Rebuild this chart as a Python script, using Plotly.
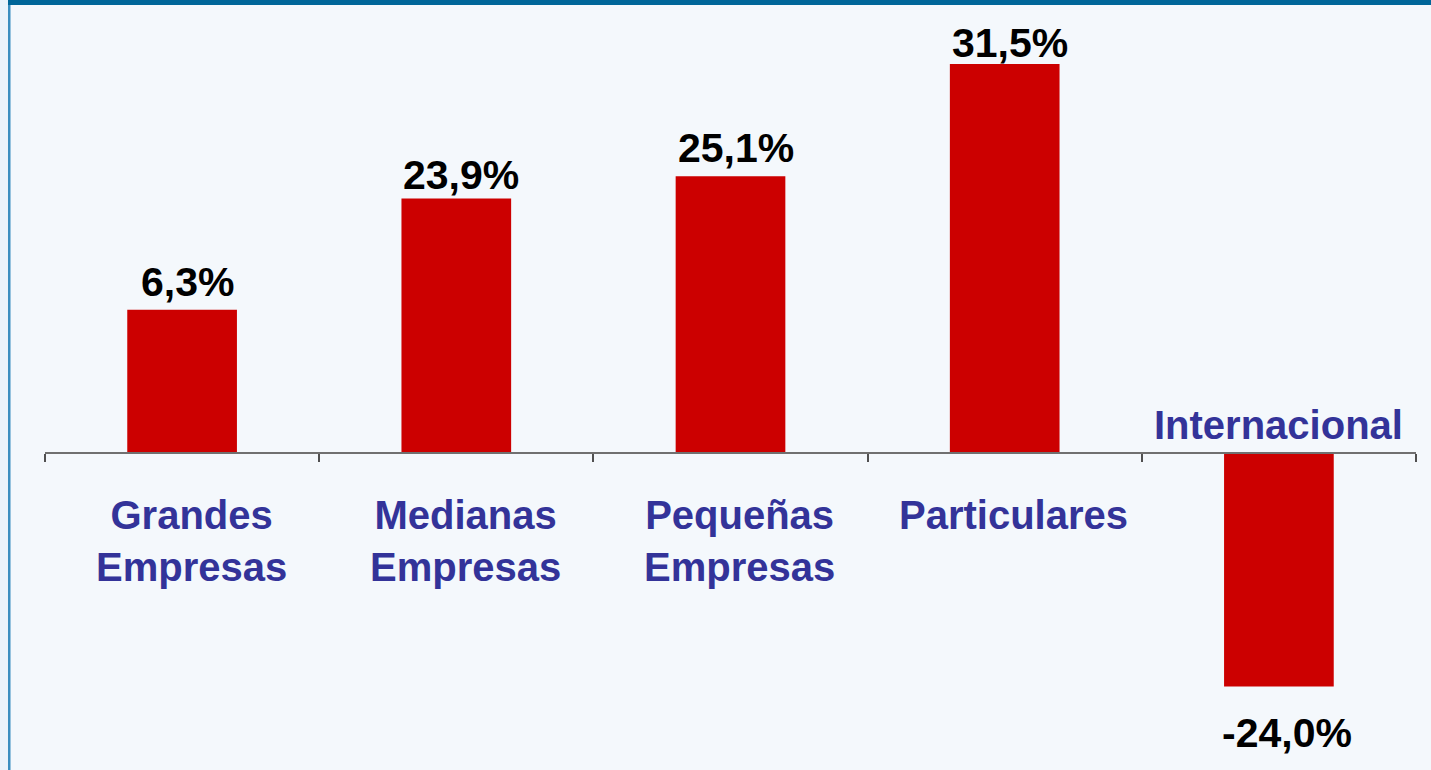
import plotly.graph_objects as go

# categories and values
categories = ["Grandes Empresas", "Medianas Empresas", "Pequeñas Empresas",
              "Particulares", "Internacional"]
category_labels = ["Grandes<br>Empresas", "Medianas<br>Empresas", "Pequeñas<br>Empresas",
                   "Particulares", "Internacional"]
value_labels = ["6,3%", "23,9%", "25,1%", "31,5%", "-24,0%"]
# bar heights as drawn in the source chart (its bars are not to scale with the labels)
bar_heights = [11.6, 20.6, 22.4, 31.5, -18.9]

W, H = 1431, 770
M_L, M_R, M_T, M_B = 45, 15, 10, 0
PX_PER_UNIT = 12.35
ZERO_PX = 453  # pixel row of the baseline

plot_h = H - M_T - M_B
plot_w = W - M_L - M_R
y_top = (ZERO_PX - M_T) / PX_PER_UNIT
y_bot = -(H - M_B - ZERO_PX) / PX_PER_UNIT

BAR_RED = "#CC0000"
CAT_BLUE = "#333399"
FONT = "Arial, Liberation Sans, sans-serif"

# the source places its value labels by hand, so the gap above each bar varies
label_yshift = [3, -1, 3, -4, -22]

fig = go.Figure()
fig.add_trace(go.Bar(
    x=categories, y=bar_heights,
    marker=dict(color=BAR_RED, line=dict(width=0)),
    width=0.4, hoverinfo="skip",
))

# value labels
for cat, v, lab, ys in zip(categories, bar_heights, value_labels, label_yshift):
    fig.add_annotation(
        x=cat, y=v, text=lab, showarrow=False, xref="x", yref="y",
        yanchor="bottom" if v >= 0 else "top",
        yshift=ys, xshift=5 if v >= 0 else 8,
        font=dict(family=FONT, size=41, color="black", weight="bold"),
    )

# category labels, below the axis (above it for the negative bar)
for cat, v, lab in zip(categories, bar_heights, category_labels):
    fig.add_annotation(
        x=cat, y=0, text=lab, showarrow=False, xref="x", yref="y",
        yanchor="top" if v >= 0 else "bottom",
        yshift=-38 if v >= 0 else 4, xshift=9 if v >= 0 else 0,
        font=dict(family=FONT, size=40, color=CAT_BLUE, weight="bold"),
    )


def px_x(p):
    return (p - M_L) / plot_w


def px_y(p):
    return (H - M_B - p) / plot_h


shapes = [
    # light strip at the left edge
    dict(type="rect", xref="paper", yref="paper", x0=px_x(0), x1=px_x(8),
         y0=px_y(H), y1=px_y(0), fillcolor="#EAF3FB", line=dict(width=0), layer="below"),
    # blue frame line on the left
    dict(type="rect", xref="paper", yref="paper", x0=px_x(8), x1=px_x(10.5),
         y0=px_y(H), y1=px_y(0), fillcolor="#3A8EC0", line=dict(width=0), layer="below"),
    # dark band at the top
    dict(type="rect", xref="paper", yref="paper", x0=px_x(8), x1=px_x(W),
         y0=px_y(5), y1=px_y(0), fillcolor="#006699", line=dict(width=0)),
]

fig.update_layout(
    width=W, height=H,
    margin=dict(l=M_L, r=M_R, t=M_T, b=M_B),
    paper_bgcolor="#F4F8FC", plot_bgcolor="rgba(0,0,0,0)",
    showlegend=False,
    shapes=shapes,
    xaxis=dict(
        type="category", range=[-0.5, len(categories) - 0.5],
        showticklabels=False, showgrid=False, zeroline=False,
        showline=True, linecolor="#707070", linewidth=1.5,
        ticks="outside", tickson="boundaries", ticklen=8, tickcolor="#505050", tickwidth=1.5,
        anchor="free", position=(H - M_B - ZERO_PX) / plot_h,
    ),
    yaxis=dict(range=[y_bot, y_top], visible=False, showgrid=False, zeroline=False),
)

fig.write_html("out.html", config={"displayModeBar": False},
               post_script="document.body.style.margin='0';")
